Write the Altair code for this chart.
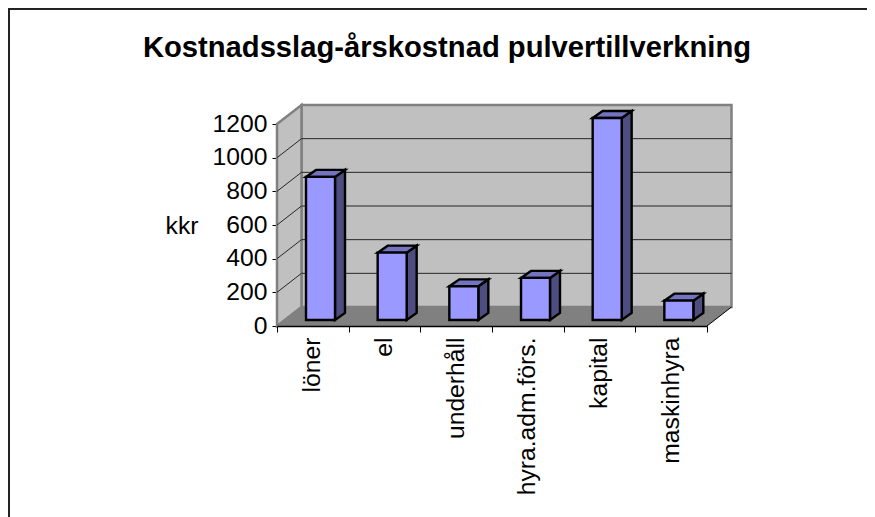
import altair as alt
import pandas as pd

categories = ["löner", "el", "underhåll", "hyra.adm.förs.", "kapital", "maskinhyra"]
values = [850, 400, 200, 250, 1200, 115]
grid_values = [200, 400, 600, 800, 1000]
y_ticks = [0, 200, 400, 600, 800, 1000, 1200]
y_max = 1200
title_text = "Kostnadsslag-årskostnad pulvertillverkning"

FONT = "Liberation Sans"
W, H = 430, 202
PX = W / len(categories)     # pixels per category slot
PY = H / y_max               # pixels per value unit
WALL_DX, WALL_DY = 24.5 / PX, 19 / PY      # depth of the 3D box, in data units
BAR_SHIFT_X, BAR_SHIFT_Y = 7.67, 6         # pixels the bars stand behind the front edge
BAR_W = 29
FACE_DX, FACE_DY = 10 / PX, 7 / PY         # depth of a bar
EDGE = 2.4

x_q = alt.Scale(domain=[0, len(categories)])
y_q = alt.Scale(domain=[0, y_max], nice=False, zero=False)
X = lambda: alt.X("x:Q", scale=x_q, axis=None)
Y = lambda: alt.Y("y:Q", scale=y_q, axis=None)
Y2 = lambda: alt.Y2("y2:Q")

# walls and floor
n = len(categories)
back_wall = pd.DataFrame([
    {"x": WALL_DX, "y": y_max + WALL_DY, "y2": WALL_DY},
    {"x": n + WALL_DX, "y": y_max + WALL_DY, "y2": WALL_DY},
])
left_wall = pd.DataFrame([
    {"x": 0, "y": y_max, "y2": 0},
    {"x": WALL_DX, "y": y_max + WALL_DY, "y2": WALL_DY},
])
floor = pd.DataFrame([
    {"x": 0, "y": 0, "y2": 0},
    {"x": WALL_DX, "y": WALL_DY, "y2": 0},
    {"x": n, "y": WALL_DY, "y2": 0},
    {"x": n + WALL_DX, "y": WALL_DY, "y2": WALL_DY},
])

area_kw = dict(orient="vertical", interpolate="linear", clip=False)
back_layer = alt.Chart(back_wall).mark_area(color="#c0c0c0", stroke="#808080", strokeWidth=2.5, **area_kw).encode(X(), Y(), Y2())
left_layer = alt.Chart(left_wall).mark_area(color="#c0c0c0", stroke="#808080", strokeWidth=2.5, **area_kw).encode(X(), Y(), Y2())
floor_layer = alt.Chart(floor).mark_area(color="#808080", **area_kw).encode(X(), Y(), Y2())

# gridlines
grid_rows = []
for g in grid_values:
    grid_rows += [
        {"g": g, "x": 0, "y": g},
        {"g": g, "x": WALL_DX, "y": g + WALL_DY},
        {"g": g, "x": n + WALL_DX, "y": g + WALL_DY},
    ]
grid_layer = alt.Chart(pd.DataFrame(grid_rows)).mark_line(color="#262626", strokeWidth=1).encode(
    X(), Y(), detail="g:N", order=alt.Order("x:Q"))

floor_edge = pd.DataFrame([
    {"x": n, "y": 0},
    {"x": n + WALL_DX, "y": WALL_DY},
])
edge_layer = alt.Chart(floor_edge).mark_line(color="#000000", strokeWidth=1).encode(X(), Y())

# bar faces
side_rows, top_rows = [], []
shift_y = BAR_SHIFT_Y / PY
for i, (c, v) in enumerate(zip(categories, values)):
    centre = i + 0.5 + BAR_SHIFT_X / PX
    x0 = centre - BAR_W / 2 / PX
    x1 = centre + BAR_W / 2 / PX
    top = v + shift_y
    side_rows += [
        {"c": c, "x": x1, "y": top, "y2": shift_y},
        {"c": c, "x": x1 + FACE_DX, "y": top + FACE_DY, "y2": shift_y + FACE_DY},
    ]
    top_rows += [
        {"c": c, "x": x0, "y": top, "y2": top},
        {"c": c, "x": x0 + FACE_DX, "y": top + FACE_DY, "y2": top},
        {"c": c, "x": x1, "y": top + FACE_DY, "y2": top},
        {"c": c, "x": x1 + FACE_DX, "y": top + FACE_DY, "y2": top + FACE_DY},
    ]
side_layer = alt.Chart(pd.DataFrame(side_rows)).mark_area(
    color="#4d4d80", stroke="#000000", strokeWidth=EDGE, strokeJoin="miter", **area_kw
).encode(X(), Y(), Y2(), detail="c:N")
top_layer = alt.Chart(pd.DataFrame(top_rows)).mark_area(
    color="#7373bf", stroke="#000000", strokeWidth=EDGE, strokeJoin="miter", **area_kw
).encode(X(), Y(), Y2(), detail="c:N")

# front faces, which carry the real axes
df = pd.DataFrame({"kategori": categories, "varde": values})
front_layer = alt.Chart(df).mark_bar(
    size=BAR_W, xOffset=BAR_SHIFT_X, yOffset=-BAR_SHIFT_Y, y2Offset=-BAR_SHIFT_Y,
    color="#9999ff", stroke="#000000", strokeWidth=EDGE, strokeJoin="miter", clip=False,
).encode(
    x=alt.X("kategori:N", sort=categories, title=None,
            scale=alt.Scale(paddingInner=0, paddingOuter=0),
            axis=alt.Axis(tickBand="extent", labelAngle=270, labelAlign="right", labelBaseline="middle",
                          labelFont=FONT, labelFontSize=24.7, labelColor="#000000", labelPadding=5,
                          tickSize=6, tickColor="#000000", domainColor="#000000", domainWidth=1.5,
                          tickWidth=1, grid=False, zindex=1, labelLimit=300)),
    y=alt.Y("varde:Q", scale=y_q,
            axis=alt.Axis(values=y_ticks, format="d", title="kkr", titleAngle=0, titleFont=FONT, titleFontSize=24.7,
                          titleFontWeight="normal", titleColor="#000000", titleX=-95.5, titleY=102,
                          titleAlign="center", titleBaseline="middle",
                          labelFont=FONT, labelFontSize=24.7, labelColor="#000000", labelPadding=5,
                          tickSize=5, tickColor="#000000", domain=False, grid=False)),
)

# chart frame, top and left sides only
border_top = alt.Chart(df).mark_rule(color="#222222", strokeWidth=2).encode(
    x=alt.value(-269), x2=alt.value(590), y=alt.value(-115.5))
border_left = alt.Chart(df).mark_rule(color="#222222", strokeWidth=2).encode(
    x=alt.value(-268.5), y=alt.value(-116), y2=alt.value(393))

chart = alt.layer(
    back_layer, left_layer, floor_layer, grid_layer, edge_layer,
    side_layer, top_layer, front_layer, border_top, border_left,
).resolve_scale(x="independent").resolve_axis(y="independent").properties(
    width=W, height=H,
    padding={"left": 269, "top": 116, "right": 160, "bottom": 191},
    autosize=alt.AutoSizeParams(type="none"),
    title=alt.TitleParams(title_text, font=FONT, fontSize=29.2, fontWeight="bold", color="#000000",
                          anchor="middle", dx=-45, offset=-56),
).configure_view(stroke=None)

chart.save("out.html", embed_options={"renderer": "svg", "actions": False})
